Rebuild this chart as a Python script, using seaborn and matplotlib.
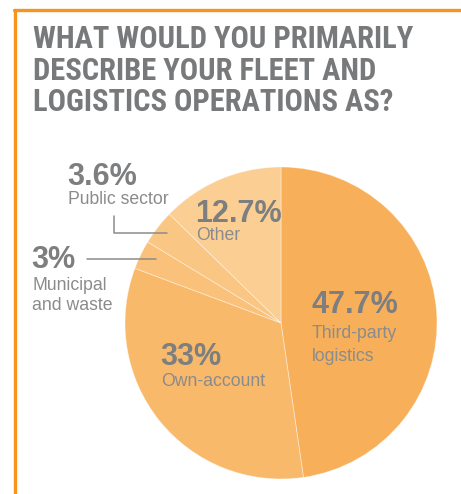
import matplotlib
matplotlib.use('Agg')
import matplotlib.pyplot as plt
from matplotlib import font_manager
from matplotlib.lines import Line2D
import seaborn as sns

sns.set_theme(style="white")
plt.rcParams['font.family'] = ['Liberation Sans', 'DejaVu Sans']

# data, clockwise from 12 o'clock
categories = ["Third-party\nlogistics", "Own-account", "Municipal\nand waste", "Public sector", "Other"]
shares = [47.7, 33, 3, 3.6, 12.7]
pct_labels = ["47.7%", "33%", "3%", "3.6%", "12.7%"]
slice_colors = ["#F7AF5A", "#F9B96B", "#FAC17A", "#FAC683", "#FBCE94"]
title_lines = ["WHAT WOULD YOU PRIMARILY", "DESCRIBE YOUR FLEET AND", "LOGISTICS OPERATIONS AS?"]

W, H = 461, 494
fig = plt.figure(figsize=(W / 100, H / 100), dpi=100)

def fx(px):
    return px / W

def fy(py):
    return 1 - py / H

# pie: centre (281, 323) px, radius 156 px
cx, cy, r = 281, 323, 156
ax = fig.add_axes([fx(cx - r), fy(cy + r), 2 * r / W, 2 * r / H])
ax.pie(shares, colors=slice_colors, startangle=90, counterclock=False,
       wedgeprops=dict(edgecolor=(1, 1, 1, 0.45), linewidth=0.6))
ax.set_xlim(-1, 1)
ax.set_ylim(-1, 1)
ax.set_aspect('auto')
ax.axis('off')

# orange frame (left and top edges)
orange = "#F7941E"
fig.add_artist(Line2D([fx(15), fx(15)], [fy(10), 0], color=orange, lw=2.4, transform=fig.transFigure))
fig.add_artist(Line2D([fx(14), 1], [fy(10), fy(10)], color=orange, lw=2.4, transform=fig.transFigure))

# title - condensed face if there is one, otherwise regular bold a bit smaller
installed = {f.name for f in font_manager.fontManager.ttflist}
title_family, title_size = 'Liberation Sans', 18
for name in ['Liberation Sans Narrow', 'Roboto Condensed', 'Open Sans Condensed']:
    if name in installed:
        title_family, title_size = name, 22
        break
for i, line in enumerate(title_lines):
    fig.text(fx(33), fy(48 + i * 31.5), line, family=[title_family, 'DejaVu Sans'],
             fontweight='bold', fontsize=title_size, color="#77797B", va='baseline', ha='left')

# slice labels: (x, pct baseline, first label baseline, line gap)
label_pos = [(311, 313, 338, 23), (160, 365, 386, 21), (31, 268, 290, 20), (67, 185, 204, 20), (195, 222, 240, 20)]
pct_color = "#7D7E80"
txt_color = "#8A8B8D"
for pct, cat, (x, yb, yl, gap) in zip(pct_labels, categories, label_pos):
    fig.text(fx(x), fy(yb), pct, fontsize=22, fontweight='bold', color=pct_color, va='baseline', ha='left')
    for j, part in enumerate(cat.split("\n")):
        fig.text(fx(x + 1), fy(yl + j * gap), part, fontsize=12.7, color=txt_color, va='baseline', ha='left')

# leader lines
lead = "#8C8C8C"
fig.add_artist(Line2D([fx(114), fx(114), fx(167)], [fy(216), fy(233), fy(233)], color=lead, lw=1.1,
                      transform=fig.transFigure))
fig.add_artist(Line2D([fx(87), fx(156)], [fy(259), fy(259)], color=lead, lw=1.1, transform=fig.transFigure))

fig.savefig("out.png", dpi=100)
